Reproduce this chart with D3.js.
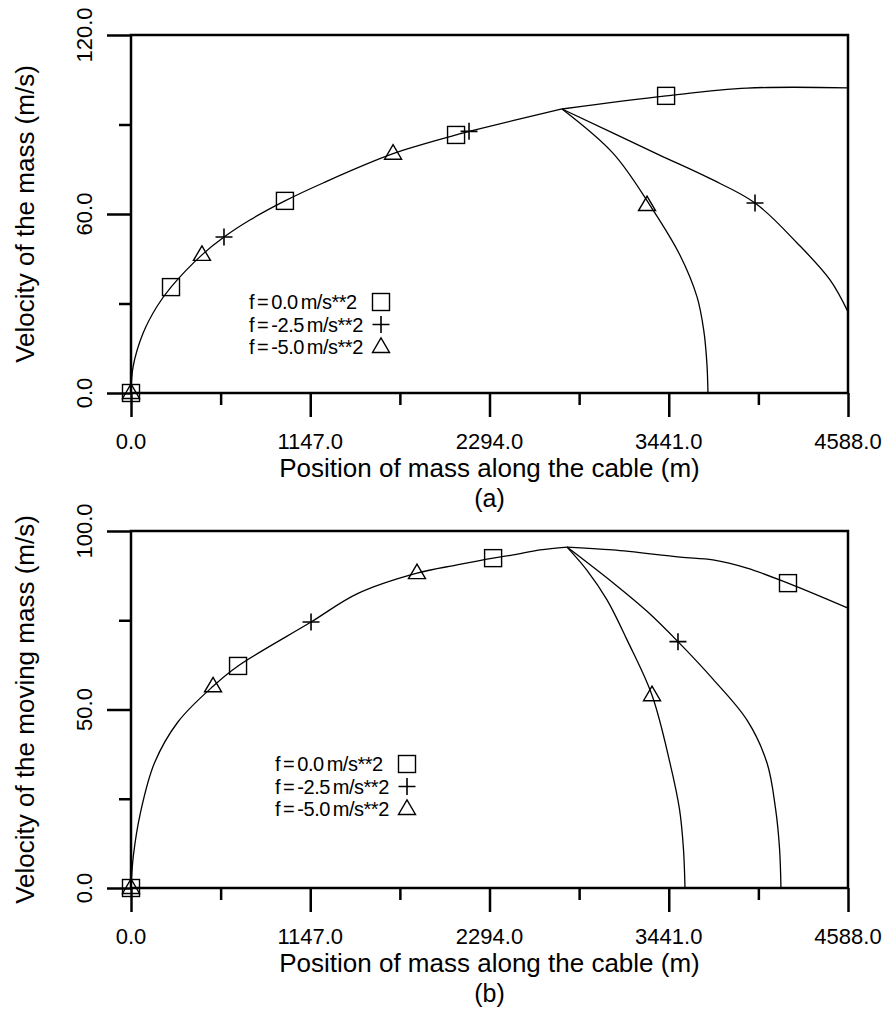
<!DOCTYPE html>
<html>
<head>
<meta charset="utf-8">
<script src="https://cdn.jsdelivr.net/npm/d3@7"></script>
<style>
  html, body { margin: 0; padding: 0; background: #fff; }
  svg { display: block; font-family: "Liberation Sans", Arial, sans-serif; }
</style>
</head>
<body>
<svg id="chart" width="885" height="1013"></svg>
<script>
// x axis, shared by both panels
const xMajor = [0, 1147, 2294, 3441, 4588];
const xMinor = [573.5, 1720.5, 2867.5, 4014.5];

// panel (a) - y ticks
const yMajorA = [0, 60, 120];
const yMinorA = [30, 90];

// panel (a): all three runs share one path until the braking point, then split
// [position m, velocity m/s]
const sharedA = [[0, 0], [13, 8.7], [77, 20], [166, 29], [256, 35.5], [454, 46.3], [595, 52.3], [761, 58],
  [985, 64.4], [1229, 70.4], [1677, 80.2], [2080, 86.5], [2163, 87.7], [2758, 95.2]];
const branchA0 = [[2758, 95.2], [3424, 99.6], [3942, 102.2], [4588, 102.3]];
const branchA25 = [[2758, 95.2], [3372, 80.0], [3700, 72.0], [3993, 63.7], [4262, 50.3], [4473, 37.9], [4588, 27.2]];
const branchA5 = [[2758, 95.2], [3084, 80.4], [3320, 63.0], [3513, 46.2], [3622, 32.2], [3665, 21], [3685, 10], [3692, 0]];

// panel (a) markers
const squaresA = [[0, 0], [256, 35.5], [985, 64.4], [2080, 86.5], [3424, 99.6]];
const plusesA = [[595, 52.3], [2163, 87.7], [3993, 63.7]];
const trianglesA = [[0, 0], [454, 46.3], [1677, 80.2], [3302, 63.0]];

// panel (b) - y ticks
const yMajorB = [0, 50, 100];
const yMinorB = [25, 75];

// panel (b)
const sharedB = [[0, 0], [15, 9], [60, 21], [150, 35], [300, 46.5], [525, 56.5], [685, 62.2], [1152, 74.5],
  [1446, 82.4], [1830, 88.2], [2086, 90.5], [2317, 92.4], [2445, 93.3], [2617, 94.7], [2790, 95.5]];
const branchB0 = [[2790, 95.5], [3084, 94.7], [3513, 92.7], [3724, 91.9], [3942, 89.6], [4204, 85.4], [4588, 78.4]];
const branchB25 = [[2790, 95.5], [3084, 85.5], [3302, 77.5], [3500, 69], [3724, 58.5], [3942, 47], [4070, 35],
  [4125, 22], [4150, 11], [4159, 0]];
const branchB5 = [[2790, 95.5], [2918, 89], [3046, 80.7], [3174, 69.5], [3334, 54], [3449, 35], [3510, 22],
  [3535, 11], [3545, 0]];

// panel (b) markers
const squaresB = [[0, 0], [685, 62.2], [2317, 92.4], [4204, 85.4]];
const plusesB = [[1152, 74.5], [3500, 69]];
const trianglesB = [[0, 0], [525, 56.5], [1830, 88.2], [3334, 54]];

const legendLabels = ["f = 0.0 m/s**2", "f = -2.5 m/s**2", "f = -5.0 m/s**2"];
const legendSymbols = ["square", "plus", "triangle"];

const svg = d3.select("#chart");
svg.append("rect").attr("width", 885).attr("height", 1013).attr("fill", "#fff");

const left = 131, right = 848;
const x = d3.scaleLinear().domain([0, 4588]).range([left, right]);

function drawMarker(g, kind, px, py) {
    const s = 8.5;
    if (kind === "square") {
        g.append("rect").attr("x", px - s).attr("y", py - s).attr("width", 2 * s).attr("height", 2 * s)
            .attr("fill", "none").attr("stroke", "#000").attr("stroke-width", 1.4);
    } else if (kind === "plus") {
        g.append("path").attr("d", `M${px - s},${py}H${px + s}M${px},${py - s}V${py + s}`)
            .attr("stroke", "#000").attr("stroke-width", 1.6).attr("fill", "none");
    } else {
        g.append("path").attr("d", `M${px - s},${py + 5.5}L${px + s},${py + 5.5}L${px},${py - 9}Z`)
            .attr("fill", "none").attr("stroke", "#000").attr("stroke-width", 1.4);
    }
}

function drawPanel(p) {
    const y = d3.scaleLinear().domain([0, p.yMax]).range([p.bottom, p.top]);
    const g = svg.append("g");

    // curves
    const line = d3.line().x(d => x(d[0])).y(d => y(d[1])).curve(d3.curveCatmullRom.alpha(0.5));
    p.curves.forEach(c => {
        g.append("path").datum(c).attr("d", line)
            .attr("fill", "none").attr("stroke", "#000").attr("stroke-width", 1.3);
    });

    // markers
    p.squares.forEach(d => drawMarker(g, "square", x(d[0]), y(d[1])));
    p.pluses.forEach(d => drawMarker(g, "plus", x(d[0]), y(d[1])));
    p.triangles.forEach(d => drawMarker(g, "triangle", x(d[0]), y(d[1])));

    // frame
    g.append("rect").attr("x", left).attr("y", p.top).attr("width", right - left).attr("height", p.bottom - p.top)
        .attr("fill", "none").attr("stroke", "#000").attr("stroke-width", 2.5);

    // axes ticks
    const ax = (axis) => {
        const a = g.append("g");
        a.call(axis);
        a.select(".domain").remove();
        a.selectAll(".tick line").attr("stroke", "#000").attr("stroke-width", 2.5);
        return a;
    };
    ax(d3.axisBottom(x).tickValues(xMajor).tickSize(24).tickFormat(""))
        .attr("transform", `translate(0,${p.bottom})`);
    ax(d3.axisBottom(x).tickValues(xMinor).tickSize(12).tickFormat(""))
        .attr("transform", `translate(0,${p.bottom})`);
    ax(d3.axisLeft(y).tickValues(p.yMajor).tickSize(24).tickFormat(""))
        .attr("transform", `translate(${left},0)`);
    ax(d3.axisLeft(y).tickValues(p.yMinor).tickSize(12).tickFormat(""))
        .attr("transform", `translate(${left},0)`);

    // tick labels
    g.selectAll(".xl").data(xMajor).join("text")
        .attr("x", d => x(d)).attr("y", p.bottom + 56)
        .attr("text-anchor", "middle").attr("font-size", 22).text(d => d.toFixed(1));
    g.selectAll(".yl").data(p.yMajor).join("text")
        .attr("transform", d => `translate(92,${y(d)}) rotate(-90)`)
        .attr("text-anchor", "middle").attr("font-size", 22).text(d => d.toFixed(1));

    // titles
    g.append("text").attr("x", (left + right) / 2).attr("y", p.bottom + 84)
        .attr("text-anchor", "middle").attr("font-size", 26)
        .text("Position of mass along the cable (m)");
    g.append("text").attr("x", (left + right) / 2).attr("y", p.bottom + 114)
        .attr("text-anchor", "middle").attr("font-size", 25).text(p.tag);
    g.append("text")
        .attr("transform", `translate(34,${(p.top + p.bottom) / 2}) rotate(-90)`)
        .attr("text-anchor", "middle").attr("font-size", 26).text(p.yTitle);

    // legend
    legendLabels.forEach((t, i) => {
        const ly = p.legY + i * 22.5;
        g.append("text").attr("x", p.legX).attr("y", ly + 7)
            .attr("font-size", 20).attr("letter-spacing", -0.5).attr("word-spacing", -2).text(t);
        drawMarker(g, legendSymbols[i], p.legSymX, ly);
    });
}

drawPanel({
    top: 35, bottom: 393, yMax: 120, yMajor: yMajorA, yMinor: yMinorA,
    curves: [sharedA, branchA0, branchA25, branchA5],
    squares: squaresA, pluses: plusesA, triangles: trianglesA,
    tag: "(a)", yTitle: "Velocity of the mass (m/s)",
    legX: 249, legY: 302, legSymX: 381
});

drawPanel({
    top: 531, bottom: 888, yMax: 100, yMajor: yMajorB, yMinor: yMinorB,
    curves: [sharedB, branchB0, branchB25, branchB5],
    squares: squaresB, pluses: plusesB, triangles: trianglesB,
    tag: "(b)", yTitle: "Velocity of the moving mass (m/s)",
    legX: 275, legY: 764, legSymX: 407
});
</script>
</body>
</html>
